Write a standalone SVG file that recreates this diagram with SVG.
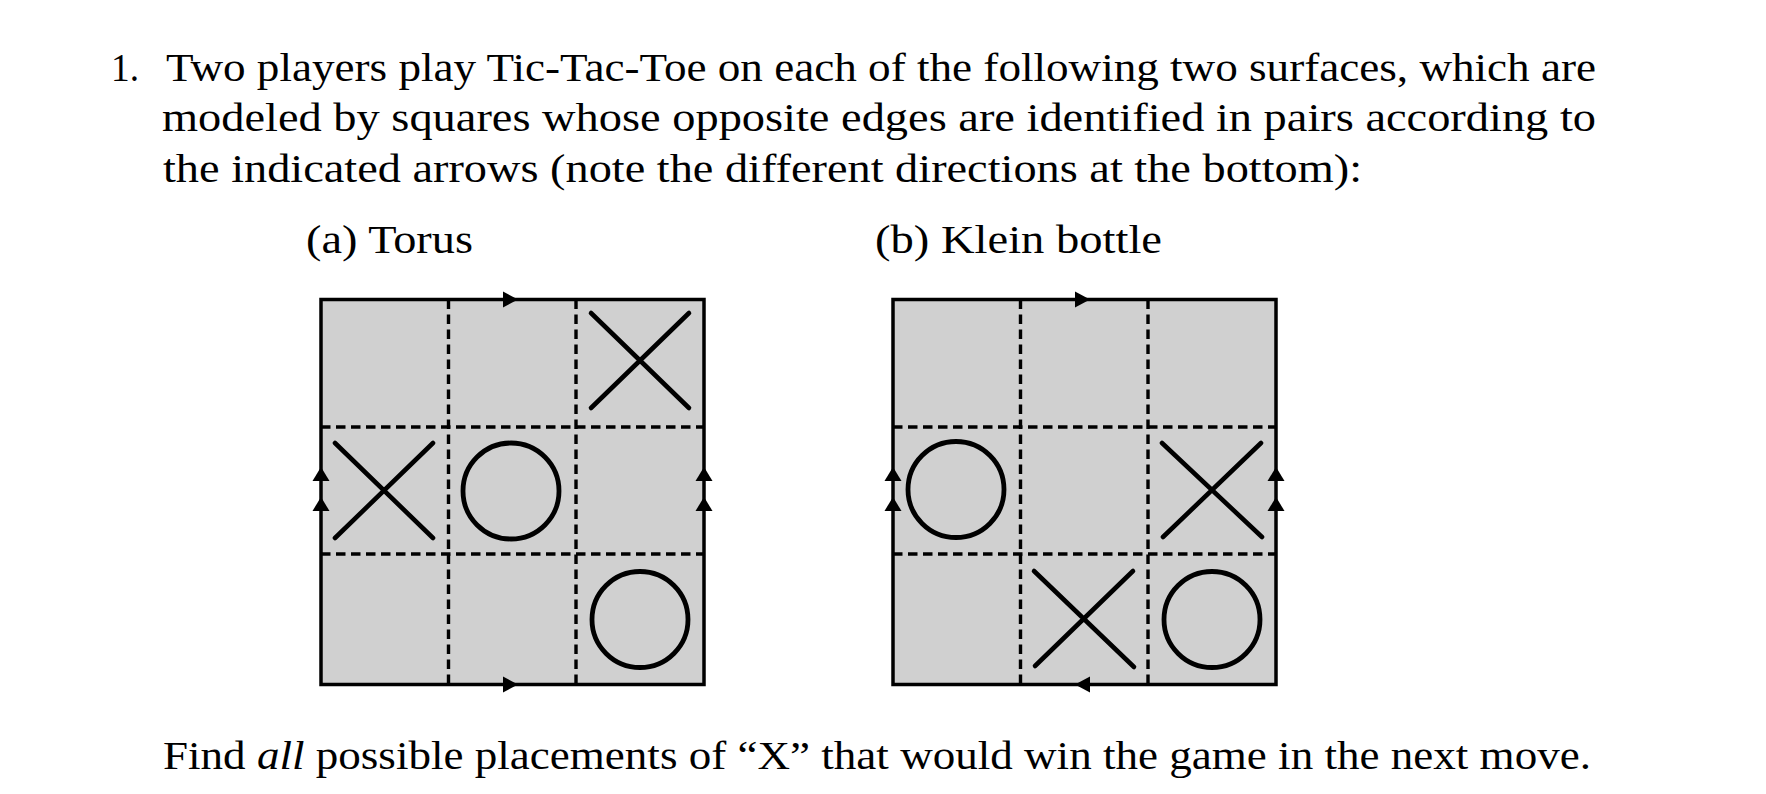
<svg xmlns="http://www.w3.org/2000/svg" width="1766" height="794" viewBox="0 0 1766 794">
<style>
  .t { font-family: "Liberation Serif", "Times New Roman", serif; font-size: 39px; fill: #000; }
  .board { fill: #d0d0d0; stroke: #000; stroke-width: 3.5; }
  .grid { stroke: #000; stroke-width: 3.4; stroke-dasharray: 9.5 5.5; fill: none; }
  .x { stroke: #000; stroke-width: 4.6; stroke-linecap: round; fill: none; }
  .o { stroke: #000; stroke-width: 4.8; fill: none; }
  .ah { fill: #000; stroke: none; }
</style>
<rect width="1766" height="794" fill="#fff"/>

<g id="text">
  <text class="t" x="111" y="81" textLength="28" lengthAdjust="spacingAndGlyphs">1.</text>
  <text class="t" x="166" y="81" textLength="1430" lengthAdjust="spacingAndGlyphs">Two players play Tic-Tac-Toe on each of the following two surfaces, which are</text>
  <text class="t" x="162" y="131" textLength="1434" lengthAdjust="spacingAndGlyphs">modeled by squares whose opposite edges are identified in pairs according to</text>
  <text class="t" x="163" y="182" textLength="1199" lengthAdjust="spacingAndGlyphs">the indicated arrows (note the different directions at the bottom):</text>
  <text class="t" x="306" y="253" textLength="167" lengthAdjust="spacingAndGlyphs">(a) Torus</text>
  <text class="t" x="875" y="253" textLength="287" lengthAdjust="spacingAndGlyphs">(b) Klein bottle</text>
  <text class="t" x="163" y="769" textLength="1428" lengthAdjust="spacingAndGlyphs">Find <tspan font-style="italic">all</tspan> possible placements of “X” that would win the game in the next move.</text>
</g>

<g id="torus">
  <rect class="board" x="321" y="299.5" width="383" height="385"/>
  <line class="grid" x1="448.5" y1="299.5" x2="448.5" y2="684.5"/>
  <line class="grid" x1="576" y1="299.5" x2="576" y2="684.5"/>
  <line class="grid" x1="321" y1="427" x2="704" y2="427"/>
  <line class="grid" x1="321" y1="554" x2="704" y2="554"/>
  <path class="x" d="M591 313 L689 408 M689 313 L591 408"/>
  <path class="x" d="M335 443 L433 538 M433 443 L335 538"/>
  <circle class="o" cx="511" cy="491" r="48"/>
  <circle class="o" cx="640" cy="619.5" r="48"/>
</g>

<g id="klein">
  <rect class="board" x="893" y="299.5" width="383" height="385"/>
  <line class="grid" x1="1020.5" y1="299.5" x2="1020.5" y2="684.5"/>
  <line class="grid" x1="1148" y1="299.5" x2="1148" y2="684.5"/>
  <line class="grid" x1="893" y1="427" x2="1276" y2="427"/>
  <line class="grid" x1="893" y1="554" x2="1276" y2="554"/>
  <circle class="o" cx="956" cy="489.5" r="48"/>
  <path class="x" d="M1162 443 L1262 537 M1261 443 L1163 537"/>
  <path class="x" d="M1034 571 L1134 667 M1133 571 L1035 666"/>
  <circle class="o" cx="1212" cy="619.5" r="48"/>
</g>

<g id="connectors">
  <!-- torus edge arrows -->
  <path class="ah" d="M518 299.5 L503 291.5 L503 307.5 Z"/>
  <path class="ah" d="M518 684.5 L503 676.5 L503 692.5 Z"/>
  <path class="ah" d="M321 467 L312.5 481 L329.5 481 Z"/>
  <path class="ah" d="M321 497 L312.5 511 L329.5 511 Z"/>
  <path class="ah" d="M704 467 L695.5 481 L712.5 481 Z"/>
  <path class="ah" d="M704 497 L695.5 511 L712.5 511 Z"/>
  <!-- klein edge arrows -->
  <path class="ah" d="M1090 299.5 L1075 291.5 L1075 307.5 Z"/>
  <path class="ah" d="M1075 684.5 L1090 676.5 L1090 692.5 Z"/>
  <path class="ah" d="M893 467 L884.5 481 L901.5 481 Z"/>
  <path class="ah" d="M893 497 L884.5 511 L901.5 511 Z"/>
  <path class="ah" d="M1276 467 L1267.5 481 L1284.5 481 Z"/>
  <path class="ah" d="M1276 497 L1267.5 511 L1284.5 511 Z"/>
</g>
</svg>
